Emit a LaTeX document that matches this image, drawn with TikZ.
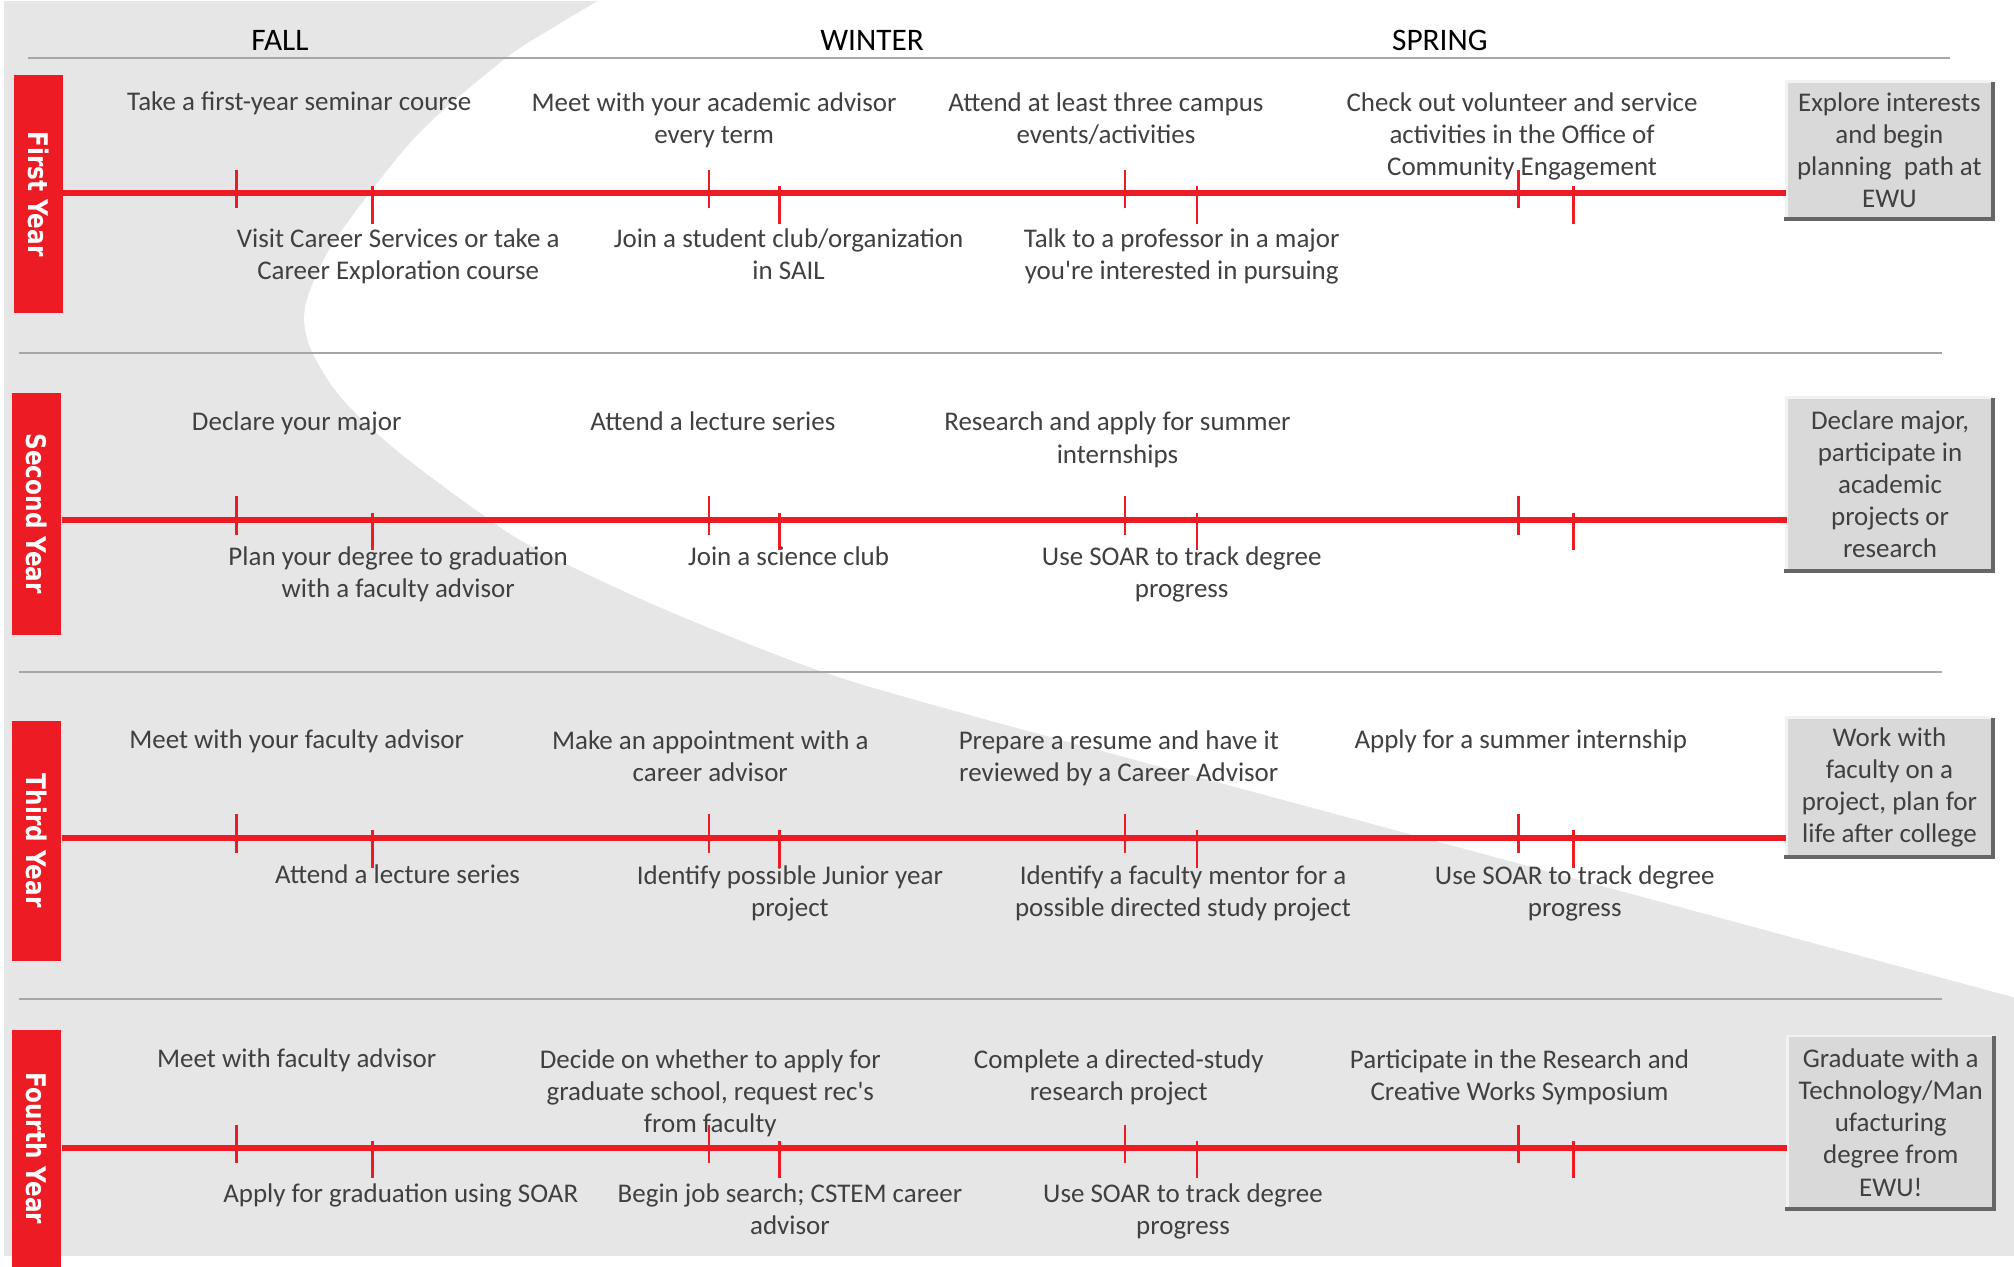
\documentclass[tikz,border=0pt]{standalone}
\usepackage{fontspec}
\usepackage{graphicx}
\setmainfont{Carlito}[Ligatures=TeXOff]
\newfontfamily\yearfont{DejaVu Sans}
\definecolor{ewured}{HTML}{ED1C24}
\definecolor{bggray}{HTML}{E6E6E6}
\definecolor{sepgray}{HTML}{A6A6A6}
\definecolor{txt}{HTML}{404040}
\definecolor{boxfill}{HTML}{D9D9D9}
\definecolor{boxdark}{HTML}{666666}
\definecolor{boxlight}{HTML}{F2F2F2}
\begin{document}
\begin{tikzpicture}[x=0.5pt,y=-0.5pt,
  act/.style={anchor=north, align=center, inner sep=0pt, text=txt,
    font=\fontsize{10.5}{12.5}\selectfont, execute at begin node=\strut},
  ml/.style={yshift=-1.75pt},
  season/.style={anchor=base, inner sep=0pt, font=\fontsize{12.2}{14}\selectfont, text=black},
  sep/.style={draw=sepgray, line width=0.65pt},
  yearbar/.style={fill=ewured, inner sep=0pt, minimum width=19pt},
  yearlabel/.style={text=white, inner sep=0pt, font=\yearfont\bfseries\fontsize{9}{11}\selectfont},
  timeline/.style={draw=ewured, line width=2.2pt},
  tickmark/.style={draw=ewured, line width=1pt},
  goal/.style={fill=boxfill, inner sep=0pt, minimum width=80pt, align=center, text=txt,
    font=\fontsize{10.5}{12.5}\selectfont},
  goallight/.style={draw=boxlight, line width=1.1pt},
  goaldark/.style={draw=boxdark, line width=1.6pt}
]
\useasboundingbox (0,0) rectangle (1568,986);
% background
\fill[bggray] (3,1) rectangle (1568,978);
\fill[white] plot[smooth, tension=0.55] coordinates {(470,-2) (430,22) (393,46) (330,100) (288,150) (256,195) (240,230) (237,252) (244,276) (266,310) (308,350) (372,398) (417,427) (512,472) (632,520) (731,550) (900,596) (1100,650) (1300,704) (1570,777)} -- (1570,-2) -- cycle;

% separators
\draw[sep] (22,45) -- (1518,45);
\draw[sep] (15,275) -- (1512,275);
\draw[sep] (15,523) -- (1512,523);
\draw[sep] (15,778) -- (1512,778);

% seasons
\node[season] (fall) at (218,39.5) {FALL};
\node[season] (winter) at (679,39.5) {WINTER};
\node[season] (spring) at (1121,39.5) {SPRING};

% year bars
\node[yearbar, minimum height=93pt] (bar1) at (30,151) {};
\node[yearbar, minimum height=94pt] (bar2) at (28.5,400) {};
\node[yearbar, minimum height=93.5pt] (bar3) at (28.5,654.5) {};
\node[yearbar, minimum height=94pt] (bar4) at (28.5,896) {};
\node[yearlabel] (lab1) at (bar1.center) {\rotatebox{-90}{\scalebox{1}[1.17]{First Year}}};
\node[yearlabel] (lab2) at (bar2.center) {\rotatebox{-90}{\scalebox{1}[1.17]{Second Year}}};
\node[yearlabel] (lab3) at (bar3.center) {\rotatebox{-90}{\scalebox{1}[1.17]{Third Year}}};
\node[yearlabel] (lab4) at (28.5,894) {\rotatebox{-90}{\scalebox{1}[1.17]{Fourth Year}}};

% goal boxes
\node[goal, minimum height=53pt] (goal1) at (1471,117) {Explore interests\\and begin\\planning\ \ path at\\EWU};
\node[goal, minimum height=67pt] (goal2) at (1471.5,377) {Declare major,\\participate in\\academic\\projects or\\research};
\node[goal, minimum height=54pt] (goal3) at (1471,613) {Work with\\faculty on a\\project, plan for\\life after college};
\node[goal, minimum height=67pt] (goal4) at (1472,874) {Graduate with a\\Technology/Man\\ufacturing\\degree from\\EWU!};
\foreach \g in {goal1,goal2,goal3,goal4}{
  \draw[goallight] (\g.south west) -- (\g.north west) -- (\g.north east);
  \draw[goaldark] (\g.north east) -- (\g.south east) -- ([xshift=-1pt]\g.south west);
}

% timelines
\coordinate (t1) at (0,150.5);
\coordinate (t2) at (0,405);
\coordinate (t3) at (0,652.5);
\coordinate (t4) at (0,894);
\draw[timeline] (bar1.east |- t1) -- (goal1.west |- t1);
\draw[timeline] (bar2.east |- t2) -- (goal2.west |- t2);
\draw[timeline] (bar3.east |- t3) -- (goal3.west |- t3);
\draw[timeline] (bar4.east |- t4) -- (goal4.west |- t4);

% first year
\node[act] (a11) at (233,68) {Take a first-year seminar course};
\node[act, ml] (a12) at (556,68) {Meet with your academic advisor\\every term};
\node[act, ml] (a13) at (861,68) {Attend at least three campus\\events/activities};
\node[act, ml] (a14) at (1185,68) {Check out volunteer and service\\activities in the Office of\\Community Engagement};
\node[act, ml] (b11) at (310,174) {Visit Career Services or take a\\Career Exploration course};
\node[act, ml] (b12) at (614,174) {Join a student club/organization\\in SAIL};
\node[act, ml] (b13) at (920,174) {Talk to a professor in a major\\you're interested in pursuing};

% second year
\node[act] (a21) at (231,317) {Declare your major};
\node[act] (a22) at (555,317) {Attend a lecture series};
\node[act, ml] (a23) at (870,317) {Research and apply for summer\\internships};
\node[act, ml] (b21) at (310,422) {Plan your degree to graduation\\with a faculty advisor};
\node[act] (b22) at (614,422) {Join a science club};
\node[act, ml] (b23) at (920,422) {Use SOAR to track degree\\progress};

% third year
\node[act] (a31) at (231,565) {Meet with your faculty advisor};
\node[act, ml] (a32) at (553,565) {Make an appointment with a\\career advisor};
\node[act, ml] (a33) at (871,565) {Prepare a resume and have it\\reviewed by a Career Advisor};
\node[act] (a34) at (1184,565) {Apply for a summer internship};
\node[act] (b31) at (309.5,670) {Attend a lecture series};
\node[act, ml] (b32) at (615,670) {Identify possible Junior year\\project};
\node[act, ml] (b33) at (921,670) {Identify a faculty mentor for a\\possible directed study project};
\node[act, ml] (b34) at (1226,670) {Use SOAR to track degree\\progress};

% fourth year
\node[act] (a41) at (231,813) {Meet with faculty advisor};
\node[act, ml] (a42) at (553,813) {Decide on whether to apply for\\graduate school, request rec's\\from faculty};
\node[act, ml] (a43) at (871,813) {Complete a directed-study\\research project};
\node[act, ml] (a44) at (1183,813) {Participate in the Research and\\Creative Works Symposium};
\node[act] (b41) at (312,918) {Apply for graduation using SOAR};
\node[act, ml] (b42) at (615,918) {Begin job search; CSTEM career\\advisor};
\node[act, ml] (b43) at (921,918) {Use SOAR to track degree\\progress};

% ticks
\foreach \yy in {150.5,405,652.5,894}{
  \foreach \xx in {184,552,876,1182} \draw[tickmark] (\xx,\yy-18.5) -- (\xx,\yy+11.5);
  \foreach \xx in {290,607,932,1225} \draw[tickmark] (\xx,\yy-6) -- (\xx,\yy+23.5);
}
\end{tikzpicture}
\end{document}
